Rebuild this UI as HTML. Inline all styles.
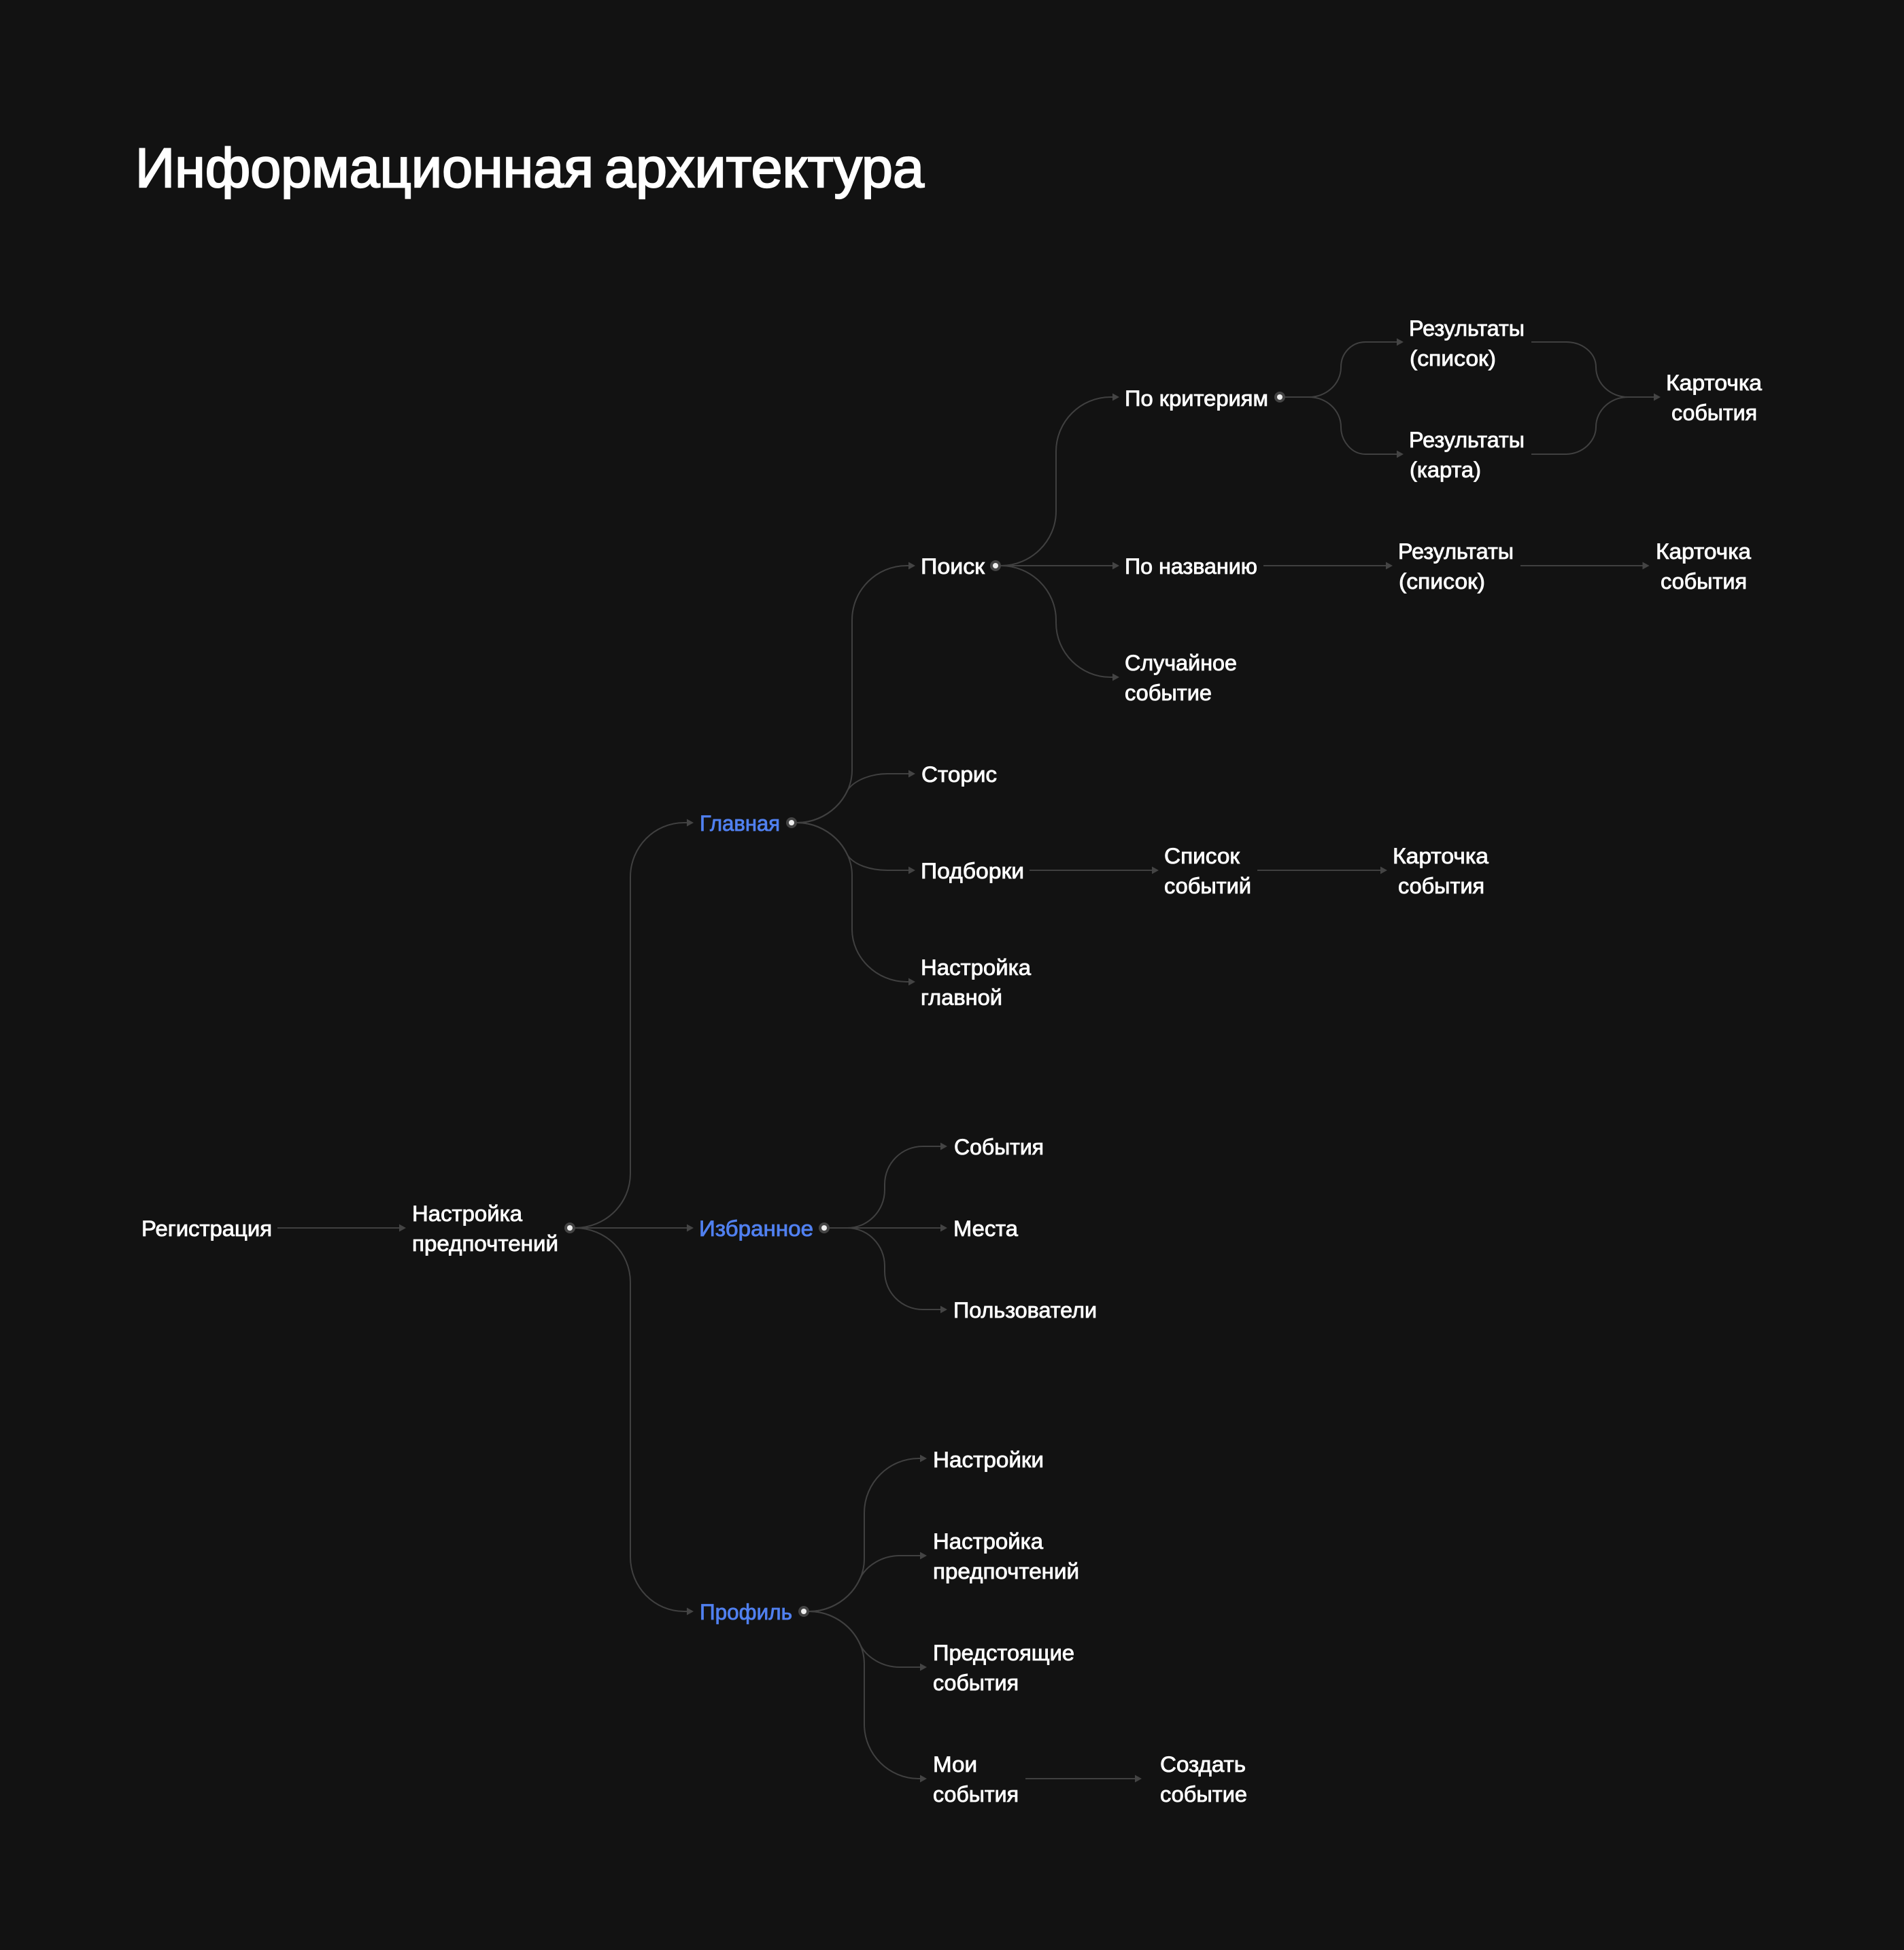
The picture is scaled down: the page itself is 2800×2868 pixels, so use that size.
<!DOCTYPE html>
<html lang="ru"><head><meta charset="utf-8"><title>Информационная архитектура</title>
<style>
html,body{margin:0;padding:0;background:#121212}
svg{display:block}
text{font-family:"Liberation Sans",sans-serif;font-size:32px;fill:#fff;stroke:#fff;stroke-width:.85px}
.b{fill:#5080f0;stroke:#5080f0}
.t{font-size:82px;stroke-width:2.2px}
.l{fill:none;stroke:#404040;stroke-width:2}
.a{fill:#444;stroke:none}
.o{fill:#444}.i{fill:#eee}
</style></head><body>
<svg width="2800" height="2868" viewBox="0 0 2800 2868" xmlns="http://www.w3.org/2000/svg">
<rect width="2800" height="2868" fill="#121212"/>
<text class="t" x="199" y="275" textLength="674" lengthAdjust="spacingAndGlyphs">Информационная</text>
<text class="t" x="889" y="275" textLength="470" lengthAdjust="spacingAndGlyphs">архитектура</text>

<g class="l">
<path d="M408 1806H590"/>
<path d="M845 1806H1012"/>
<path d="M845 1806C891 1806 927 1770 927 1726V1290C927 1246 962 1210 1006 1210H1012"/>
<path d="M845 1806C891 1806 927 1842 927 1886V2290C927 2334 962 2370 1006 2370H1012"/>

<path d="M1172 1210C1216 1210 1253 1174 1253 1133V912C1253 868 1289 832 1333 832H1338"/>
<path d="M1172 1210C1205 1210 1234 1190 1246.500 1162C1256 1148 1280 1138 1305 1138H1338"/>
<path d="M1172 1210C1205 1210 1234 1230 1246.500 1258C1256 1272 1280 1280 1305 1280H1338"/>
<path d="M1172 1210C1216 1210 1253 1246 1253 1287V1367C1253 1408 1289 1444 1333 1444H1338"/>

<path d="M1472 832C1516 832 1553 796 1553 752V664C1553 620 1589 584 1633 584H1639"/>
<path d="M1472 832H1639"/>
<path d="M1472 832C1516 832 1553 868 1553 912V916C1553 960 1589 996 1633 996H1639"/>

<path d="M1889 584H1925C1950 584 1972 565 1972 540C1972 519 1988 503 2008 503H2057"/>
<path d="M1889 584H1925C1950 584 1972 603 1972 628C1972 649 1988 668 2008 668H2057"/>
<path d="M2252 503H2303C2327 503 2347 519 2347 540C2347 565 2369 584 2394 584H2435"/>
<path d="M2252 668H2303C2327 668 2347 649 2347 628C2347 603 2369 584 2394 584H2435"/>

<path d="M1858 832H2041"/>
<path d="M2236 832H2418"/>
<path d="M1514 1280H1696"/>
<path d="M1849 1280H2033"/>

<path d="M1220 1806H1386"/>
<path d="M1220 1806H1246C1276 1806 1301 1781 1301 1750V1742C1301 1711 1326 1686 1357 1686H1386"/>
<path d="M1220 1806H1246C1276 1806 1301 1831 1301 1862V1870C1301 1901 1326 1926 1357 1926H1386"/>

<path d="M1190 2370C1234 2370 1271 2334 1271 2293V2225C1271 2181 1307 2145 1351 2145H1356"/>
<path d="M1190 2370C1223 2370 1252 2350 1264.500 2322C1274 2302 1298 2288 1323 2288H1356"/>
<path d="M1190 2370C1223 2370 1252 2390 1264.500 2418C1274 2438 1298 2452 1323 2452H1356"/>
<path d="M1190 2370C1234 2370 1271 2406 1271 2447V2536C1271 2580 1307 2616 1351 2616H1356"/>
<path d="M1508 2616H1672"/>
</g>

<g class="a">
<path d="M587 1800.500L597 1806L587 1811.500Z"/>
<path d="M1010 1800.500L1020 1806L1010 1811.500Z"/>
<path d="M1010 1204.500L1020 1210L1010 1215.500Z"/>
<path d="M1010 2364.500L1020 2370L1010 2375.500Z"/>
<path d="M1336 826.500L1346 832L1336 837.500Z"/>
<path d="M1336 1132.500L1346 1138L1336 1143.500Z"/>
<path d="M1336 1274.500L1346 1280L1336 1285.500Z"/>
<path d="M1336 1438.500L1346 1444L1336 1449.500Z"/>
<path d="M1636 578.500L1646 584L1636 589.500Z"/>
<path d="M1636 826.500L1646 832L1636 837.500Z"/>
<path d="M1636 990.500L1646 996L1636 1001.500Z"/>
<path d="M2054 497.500L2064 503L2054 508.500Z"/>
<path d="M2054 662.500L2064 668L2054 673.500Z"/>
<path d="M2432 578.500L2442 584L2432 589.500Z"/>
<path d="M2038 826.500L2048 832L2038 837.500Z"/>
<path d="M2415.500 826.500L2425.500 832L2415.500 837.500Z"/>
<path d="M1694 1274.500L1704 1280L1694 1285.500Z"/>
<path d="M2030 1274.500L2040 1280L2030 1285.500Z"/>
<path d="M1383 1680.500L1393 1686L1383 1691.500Z"/>
<path d="M1383 1800.500L1393 1806L1383 1811.500Z"/>
<path d="M1383 1920.500L1393 1926L1383 1931.500Z"/>
<path d="M1353 2139.500L1363 2145L1353 2150.500Z"/>
<path d="M1353 2282.500L1363 2288L1353 2293.500Z"/>
<path d="M1353 2446.500L1363 2452L1353 2457.500Z"/>
<path d="M1353 2610.500L1363 2616L1353 2621.500Z"/>
<path d="M1669 2610.500L1679 2616L1669 2621.500Z"/>
</g>

<circle class="o" cx="838" cy="1806" r="8"/><circle class="i" cx="838" cy="1806" r="4"/>
<circle class="o" cx="1164" cy="1210" r="8"/><circle class="i" cx="1164" cy="1210" r="4"/>
<circle class="o" cx="1212" cy="1806" r="8"/><circle class="i" cx="1212" cy="1806" r="4"/>
<circle class="o" cx="1182" cy="2370" r="8"/><circle class="i" cx="1182" cy="2370" r="4"/>
<circle class="o" cx="1464" cy="832" r="8"/><circle class="i" cx="1464" cy="832" r="4"/>
<circle class="o" cx="1882" cy="584" r="8"/><circle class="i" cx="1882" cy="584" r="4"/>

<g transform="translate(1 1)">
<text x="207" y="1817" textLength="192" lengthAdjust="spacingAndGlyphs">Регистрация</text>
<text x="605" y="1795" textLength="162" lengthAdjust="spacingAndGlyphs">Настройка</text>
<text x="605" y="1839" textLength="215" lengthAdjust="spacingAndGlyphs">предпочтений</text>

<text class="b" x="1028" y="1221" textLength="118" lengthAdjust="spacingAndGlyphs">Главная</text>
<text class="b" x="1027" y="1817" textLength="168" lengthAdjust="spacingAndGlyphs">Избранное</text>
<text class="b" x="1028" y="2381" textLength="136" lengthAdjust="spacingAndGlyphs">Профиль</text>

<text x="1353" y="843" textLength="94" lengthAdjust="spacingAndGlyphs">Поиск</text>
<text x="1354" y="1149" textLength="111" lengthAdjust="spacingAndGlyphs">Сторис</text>
<text x="1353" y="1291" textLength="152" lengthAdjust="spacingAndGlyphs">Подборки</text>
<text x="1353" y="1433" textLength="162" lengthAdjust="spacingAndGlyphs">Настройка</text>
<text x="1353" y="1477" textLength="120" lengthAdjust="spacingAndGlyphs">главной</text>

<text x="1653" y="596" textLength="211" lengthAdjust="spacingAndGlyphs">По критериям</text>
<text x="1653" y="843" textLength="195" lengthAdjust="spacingAndGlyphs">По названию</text>
<text x="1653" y="985" textLength="165" lengthAdjust="spacingAndGlyphs">Случайное</text>
<text x="1653" y="1029" textLength="128" lengthAdjust="spacingAndGlyphs">событие</text>

<text x="2071" y="493" textLength="170" lengthAdjust="spacingAndGlyphs">Результаты</text>
<text x="2072" y="537" textLength="127" lengthAdjust="spacingAndGlyphs">(список)</text>
<text x="2071" y="657" textLength="170" lengthAdjust="spacingAndGlyphs">Результаты</text>
<text x="2072" y="701" textLength="105" lengthAdjust="spacingAndGlyphs">(карта)</text>
<text x="2449" y="573" textLength="141" lengthAdjust="spacingAndGlyphs">Карточка</text>
<text x="2457" y="617" textLength="126" lengthAdjust="spacingAndGlyphs">события</text>

<text x="2055" y="821" textLength="170" lengthAdjust="spacingAndGlyphs">Результаты</text>
<text x="2056" y="865" textLength="127" lengthAdjust="spacingAndGlyphs">(список)</text>
<text x="2434" y="821" textLength="140" lengthAdjust="spacingAndGlyphs">Карточка</text>
<text x="2441" y="865" textLength="127" lengthAdjust="spacingAndGlyphs">события</text>

<text x="1711" y="1269" textLength="111" lengthAdjust="spacingAndGlyphs">Список</text>
<text x="1711" y="1313" textLength="128" lengthAdjust="spacingAndGlyphs">событий</text>
<text x="2047" y="1269" textLength="141" lengthAdjust="spacingAndGlyphs">Карточка</text>
<text x="2055" y="1313" textLength="127" lengthAdjust="spacingAndGlyphs">события</text>

<text x="1402" y="1697" textLength="132" lengthAdjust="spacingAndGlyphs">События</text>
<text x="1401" y="1817" textLength="95" lengthAdjust="spacingAndGlyphs">Места</text>
<text x="1401" y="1937" textLength="211" lengthAdjust="spacingAndGlyphs">Пользователи</text>

<text x="1371" y="2157" textLength="163" lengthAdjust="spacingAndGlyphs">Настройки</text>
<text x="1371" y="2277" textLength="162" lengthAdjust="spacingAndGlyphs">Настройка</text>
<text x="1371" y="2321" textLength="215" lengthAdjust="spacingAndGlyphs">предпочтений</text>
<text x="1371" y="2441" textLength="208" lengthAdjust="spacingAndGlyphs">Предстоящие</text>
<text x="1371" y="2485" textLength="126" lengthAdjust="spacingAndGlyphs">события</text>
<text x="1371" y="2605" textLength="65" lengthAdjust="spacingAndGlyphs">Мои</text>
<text x="1371" y="2649" textLength="126" lengthAdjust="spacingAndGlyphs">события</text>
<text x="1705" y="2605" textLength="126" lengthAdjust="spacingAndGlyphs">Создать</text>
<text x="1705" y="2649" textLength="128" lengthAdjust="spacingAndGlyphs">событие</text>
</g>
</svg>
</body></html>
